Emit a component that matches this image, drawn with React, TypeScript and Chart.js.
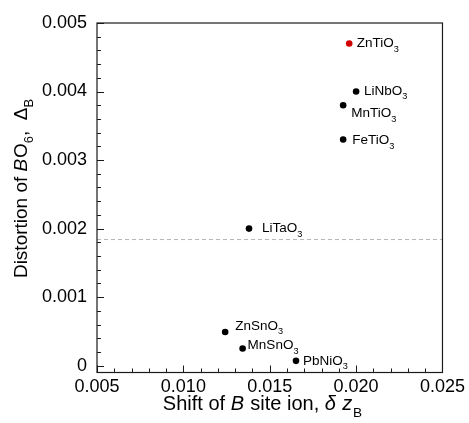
import React, { useEffect, useRef } from 'react';
import { Chart, registerables } from 'chart.js';

Chart.register(...registerables);

// ---- data ----
const compounds = ['ZnTiO3', 'LiNbO3', 'MnTiO3', 'FeTiO3', 'LiTaO3', 'ZnSnO3', 'MnSnO3', 'PbNiO3'];
const shiftZB = [0.0196, 0.02, 0.01925, 0.01925, 0.0138, 0.01242, 0.01343, 0.01652];
const distortionB = [0.0047, 0.004, 0.0038, 0.0033, 0.002, 0.00049, 0.00025, 0.00007];
const highlighted = ['ZnTiO3'];
const thresholdY = 0.00184;
const xTickLabels = ['0.005', '0.010', '0.015', '0.020', '0.025'];
const yTickLabels = ['0', '0.001', '0.002', '0.003', '0.004', '0.005'];
const xRange = [0.005, 0.025];
const yRange = [-0.0001, 0.005];

// ---- layout / style (not data) ----
const FONT = '"Liberation Sans", Arial, Helvetica, sans-serif';
const labelOffsets: Record<string, [number, number]> = {
  ZnTiO3: [7.5, -1],
  LiNbO3: [8, -1.5],
  MnTiO3: [8, 7],
  FeTiO3: [9, 0],
  LiTaO3: [13, -1],
  ZnSnO3: [10, -7],
  MnSnO3: [5, -4],
  PbNiO3: [7, -1],
};

type Seg = { t: string; italic?: boolean; sub?: boolean };

function segFont(s: Seg, size: number) {
  const sz = s.sub ? size * 0.68 : size;
  return `${s.italic ? 'italic ' : ''}${sz}px ${FONT}`;
}

function drawRich(ctx: CanvasRenderingContext2D, segs: Seg[], x: number, y: number, size: number, align: 'left' | 'center') {
  const widths = segs.map((s) => {
    ctx.font = segFont(s, size);
    return ctx.measureText(s.t).width + (s.italic ? size * 0.04 : 0);
  });
  const total = widths.reduce((a, b) => a + b, 0);
  let cx = align === 'center' ? x - total / 2 : x;
  ctx.textAlign = 'left';
  ctx.textBaseline = 'alphabetic';
  segs.forEach((s, i) => {
    ctx.font = segFont(s, size);
    ctx.fillText(s.t, cx, y + (s.sub ? size * 0.33 : 0));
    cx += widths[i];
  });
}

function formulaSegs(name: string): Seg[] {
  const m = name.match(/^(.*?)(\d+)$/);
  if (!m) return [{ t: name }];
  return [{ t: m[1] }, { t: m[2], sub: true }];
}

const yTitle: Seg[] = [
  { t: 'Distortion of ' },
  { t: 'B', italic: true },
  { t: 'O' },
  { t: '6', sub: true },
  { t: ',  \u0394' },
  { t: 'B', sub: true },
];
const xTitle: Seg[] = [
  { t: 'Shift of ' },
  { t: 'B', italic: true },
  { t: ' site ion, ' },
  { t: '\u03b4', italic: true },
  { t: ' ' },
  { t: 'z', italic: true },
  { t: 'B', sub: true },
];

const overlayPlugin = {
  id: 'overlay',
  afterDraw(chart: any) {
    const ctx: CanvasRenderingContext2D = chart.ctx;
    const { left, right, top, bottom } = chart.chartArea;
    const xs = chart.scales.x;
    const ys = chart.scales.y;
    ctx.save();
    // frame
    ctx.strokeStyle = '#1a1a1a';
    ctx.lineWidth = 1.2;
    ctx.strokeRect(left, top, right - left, bottom - top);
    // inward ticks
    ctx.lineWidth = 1;
    ctx.beginPath();
    for (let i = 0; i <= 20; i++) {
      const v = xRange[0] + i * 0.001;
      const px = Math.round(xs.getPixelForValue(v)) + 0.5;
      const len = i % 5 === 0 ? 7 : 4;
      ctx.moveTo(px, bottom);
      ctx.lineTo(px, bottom - len);
    }
    for (let i = 0; i <= 25; i++) {
      const v = i * 0.0002;
      const py = Math.round(ys.getPixelForValue(v)) + 0.5;
      const len = i % 5 === 0 ? 7 : 4;
      ctx.moveTo(left, py);
      ctx.lineTo(left + len, py);
    }
    ctx.stroke();
    // point labels
    ctx.fillStyle = '#000';
    compounds.forEach((name, i) => {
      const px = xs.getPixelForValue(shiftZB[i]);
      const py = ys.getPixelForValue(distortionB[i]);
      const off = labelOffsets[name] || [7, 0];
      const size = 13.5;
      drawRich(ctx, formulaSegs(name), px + off[0], py + off[1] + size * 0.36, size, 'left');
    });
    // axis titles
    drawRich(ctx, xTitle, 262.5, 410, 20, 'center');
    ctx.translate(26.5, 188.5);
    ctx.rotate(-Math.PI / 2);
    drawRich(ctx, yTitle, 0, 0, 19, 'center');
    ctx.restore();
  },
};

export default function App() {
  const ref = useRef<HTMLCanvasElement | null>(null);
  useEffect(() => {
    if (!ref.current) return;
    const xTickValues = xTickLabels.map(Number);
    const yTickValues = yTickLabels.map(Number);
    const chart = new Chart(ref.current, {
      type: 'scatter',
      data: {
        datasets: [
          {
            label: 'threshold',
            type: 'line',
            data: [
              { x: xRange[0], y: thresholdY },
              { x: xRange[1], y: thresholdY },
            ],
            borderColor: '#b4b4b4',
            borderWidth: 1,
            borderDash: [4, 3],
            pointRadius: 0,
            fill: false,
          } as any,
          {
            label: 'compounds',
            data: compounds.map((_, i) => ({ x: shiftZB[i], y: distortionB[i] })),
            pointRadius: 3.3,
            pointHoverRadius: 3.3,
            pointBorderWidth: 0,
            pointBackgroundColor: compounds.map((c) => (highlighted.includes(c) ? '#d00000' : '#000')),
            pointBorderColor: compounds.map((c) => (highlighted.includes(c) ? '#d00000' : '#000')),
          },
        ],
      },
      options: {
        animation: false,
        responsive: false,
        maintainAspectRatio: false,
        events: [],
        layout: { padding: { top: 23, right: 22.5, left: 0, bottom: 0 } },
        plugins: { legend: { display: false }, tooltip: { enabled: false } },
        scales: {
          x: {
            type: 'linear',
            min: xRange[0],
            max: xRange[1],
            grid: { display: false, drawTicks: false },
            border: { display: false },
            afterBuildTicks: (s: any) => {
              s.ticks = xTickValues.map((v) => ({ value: v }));
            },
            afterFit: (s: any) => {
              s.height = 50.5;
            },
            ticks: {
              autoSkip: false,
              maxRotation: 0,
              padding: 4,
              color: '#000',
              font: { family: FONT, size: 18 },
              callback: (_v: any, i: number) => xTickLabels[i],
            },
          },
          y: {
            type: 'linear',
            min: yRange[0],
            max: yRange[1],
            grid: { display: false, drawTicks: false },
            border: { display: false },
            afterBuildTicks: (s: any) => {
              s.ticks = yTickValues.map((v) => ({ value: v }));
            },
            afterFit: (s: any) => {
              s.width = 97;
            },
            ticks: {
              autoSkip: false,
              padding: 10,
              color: '#000',
              font: { family: FONT, size: 18 },
              callback: (_v: any, i: number) => yTickLabels[i],
            },
          },
        },
      },
      plugins: [overlayPlugin],
    });
    return () => chart.destroy();
  }, []);
  return (
    <div style={{ position: 'fixed', left: 0, top: 0, width: 469, height: 423, background: '#fff' }}>
      <canvas ref={ref} width={469} height={423} style={{ width: 469, height: 423, display: 'block' }} />
    </div>
  );
}
